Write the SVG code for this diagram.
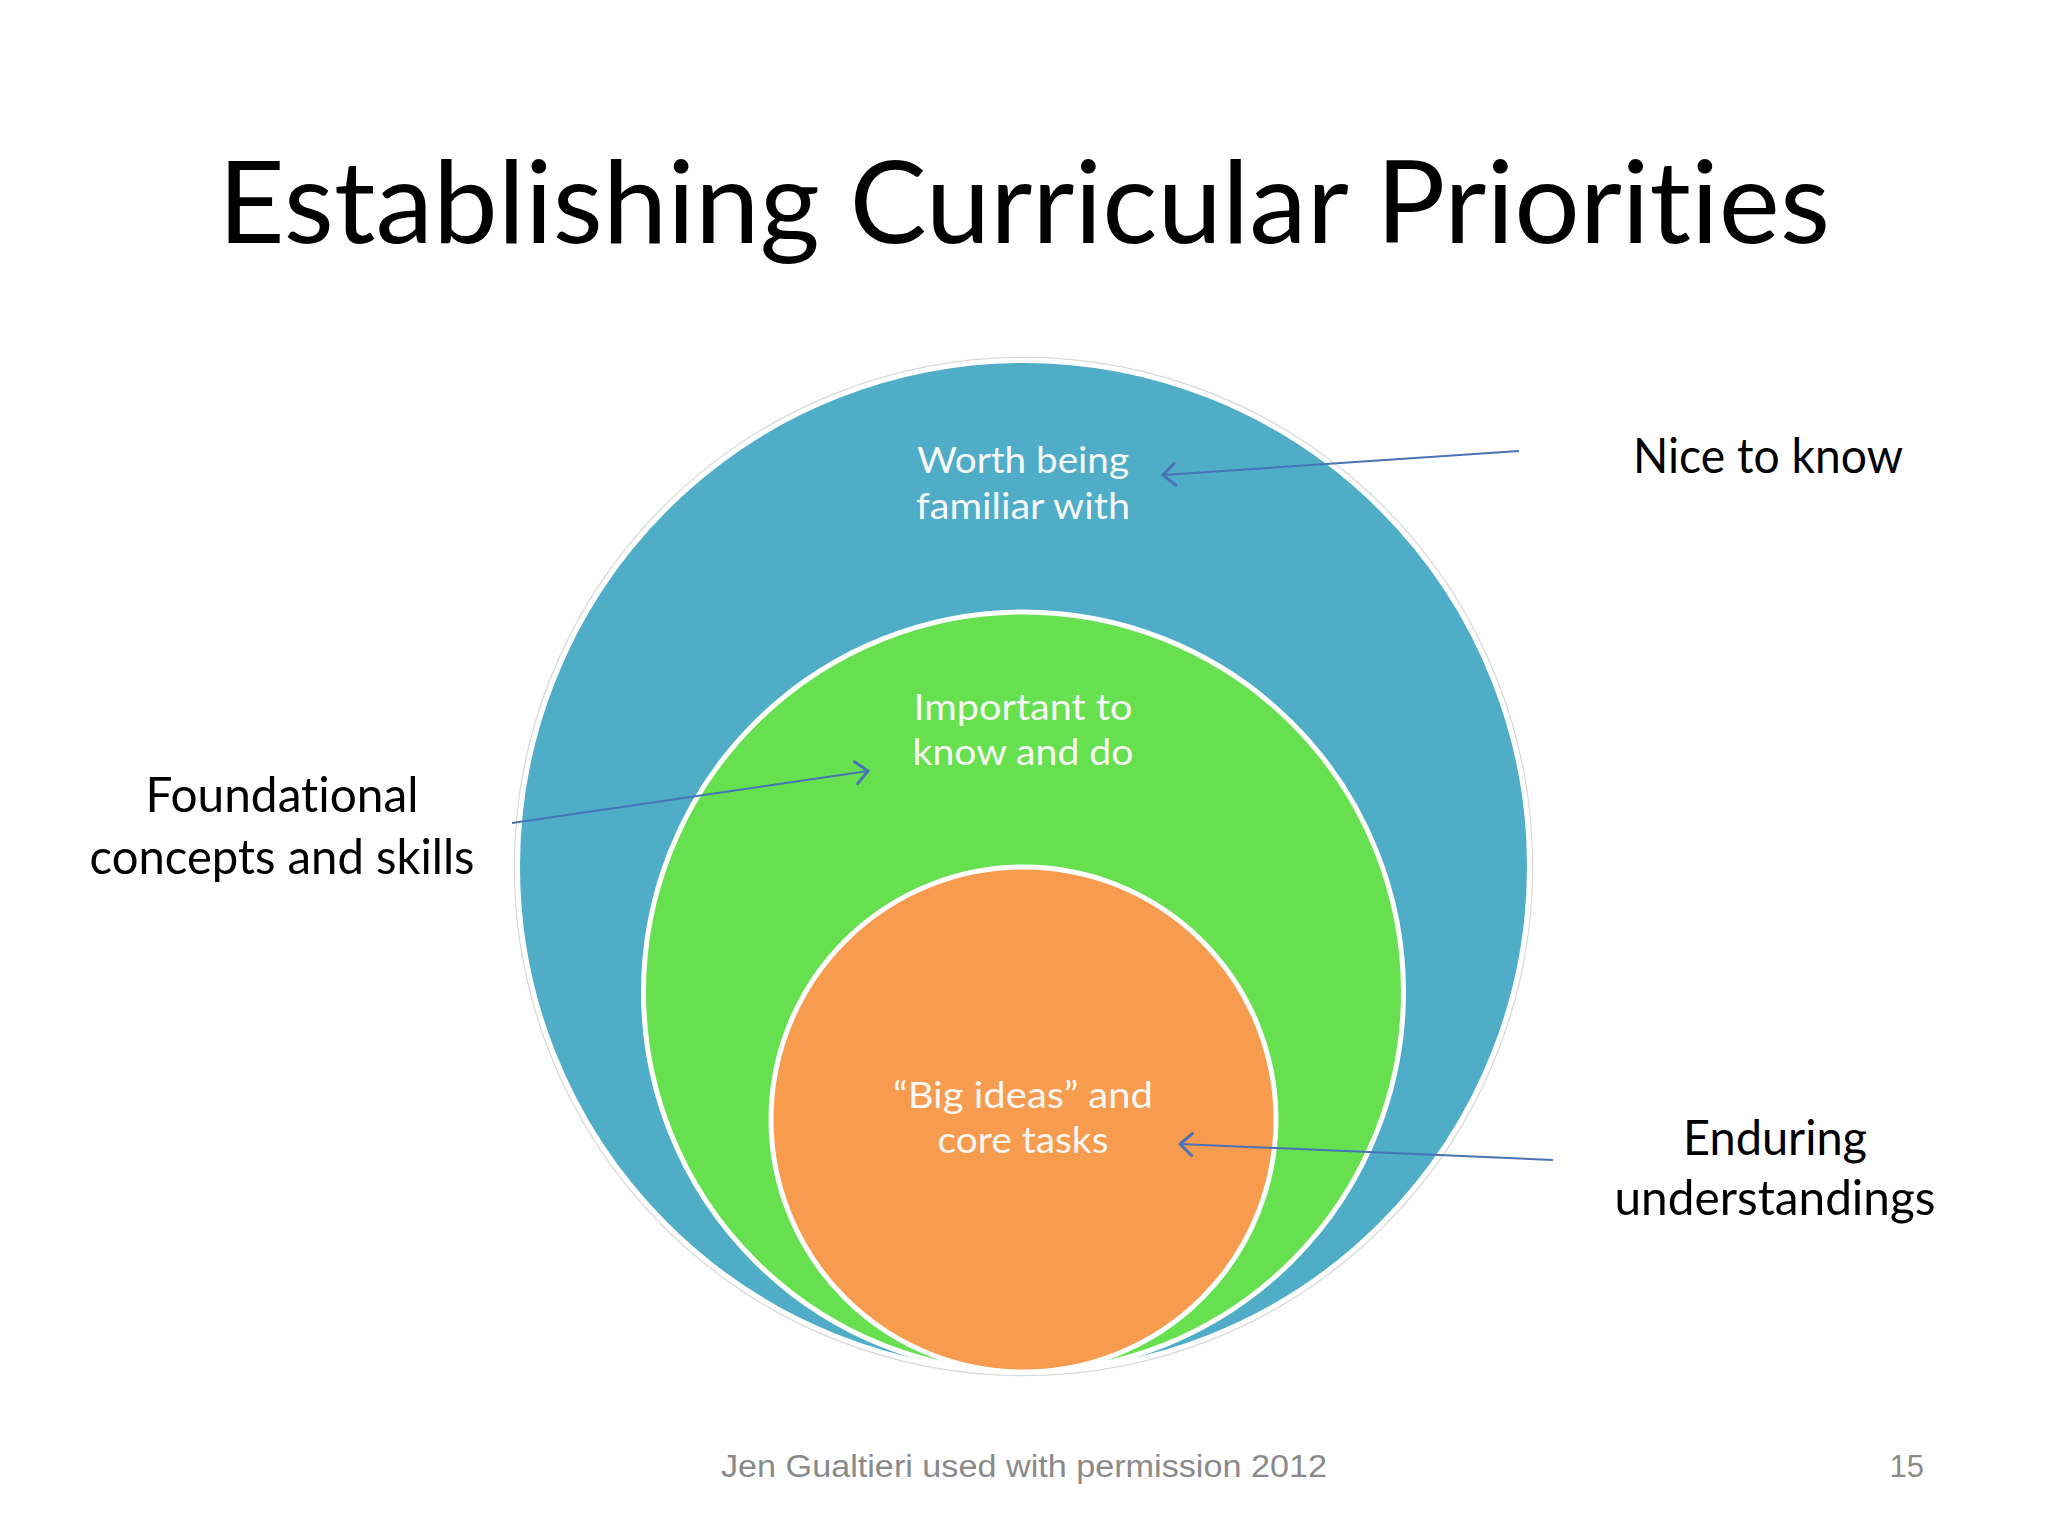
<svg xmlns="http://www.w3.org/2000/svg" width="2048" height="1536" viewBox="0 0 2048 1536">
<style>
text{font-variant-ligatures:none}
.title{font-family:Lato,"Open Sans","Liberation Sans",sans-serif;font-size:114px;fill:#000;text-anchor:middle}
.lbl{font-family:Lato,"Open Sans","Liberation Sans",sans-serif;font-size:49px;fill:#000;text-anchor:middle}
.in{font-family:Lato,"Open Sans","Liberation Sans",sans-serif;font-size:37px;fill:#f7f7f4;text-anchor:middle}
.foot{font-family:"Liberation Sans",Arial,sans-serif;font-size:31px;fill:#8a8a8a}
.ring{stroke:#fff;stroke-width:5}
.conn{stroke:#4a72b8;stroke-width:2;fill:none}
</style>
<defs>
<marker id="arr" viewBox="0 0 16 26" refX="14" refY="13" markerWidth="16" markerHeight="26" markerUnits="userSpaceOnUse" orient="auto" overflow="visible">
<path d="M2,2 L14,13 L2,24" fill="none" stroke="#4a72b8" stroke-width="3" stroke-linecap="round" stroke-linejoin="round"/>
</marker>
</defs>
<rect width="2048" height="1536" fill="#fff"/>
<text class="title" x="1024" y="243" textLength="1612" lengthAdjust="spacingAndGlyphs">Establishing Curricular Priorities</text>

<g id="outer">
<circle cx="1023.5" cy="866.5" r="509" fill="none" stroke="#d8d8d8" stroke-width="1.5"/>
<circle class="ring" cx="1023.5" cy="866.5" r="506" fill="#4fadc8"/>
<text class="in" x="1023" y="473" textLength="212" lengthAdjust="spacingAndGlyphs">Worth being</text>
<text class="in" x="1023" y="519" textLength="214" lengthAdjust="spacingAndGlyphs">familiar with</text>
</g>
<g id="middle">
<circle class="ring" cx="1023.5" cy="992" r="380" fill="#66e04f"/>
<text class="in" x="1023" y="720" textLength="219" lengthAdjust="spacingAndGlyphs">Important to</text>
<text class="in" x="1023" y="765" textLength="221" lengthAdjust="spacingAndGlyphs">know and do</text>
</g>
<g id="inner">
<circle class="ring" cx="1023.5" cy="1119.5" r="252.5" fill="#f79b4e"/>
<text class="in" x="1023" y="1108" textLength="260" lengthAdjust="spacingAndGlyphs">“Big ideas” and</text>
<text class="in" x="1023" y="1153" textLength="171" lengthAdjust="spacingAndGlyphs">core tasks</text>
</g>

<g id="nice">
<text class="lbl" x="1768" y="473" textLength="270" lengthAdjust="spacingAndGlyphs">Nice to know</text>
</g>
<g id="foundational">
<text class="lbl" x="282" y="812" textLength="273" lengthAdjust="spacingAndGlyphs">Foundational</text>
<text class="lbl" x="282" y="874" textLength="385" lengthAdjust="spacingAndGlyphs">concepts and skills</text>
</g>
<g id="enduring">
<text class="lbl" x="1775" y="1155" textLength="184" lengthAdjust="spacingAndGlyphs">Enduring</text>
<text class="lbl" x="1775" y="1215" textLength="321" lengthAdjust="spacingAndGlyphs">understandings</text>
</g>

<g id="connectors">
<line class="conn" x1="1519" y1="451" x2="1163" y2="475" marker-end="url(#arr)"/>
<line class="conn" x1="512" y1="823" x2="868" y2="771" marker-end="url(#arr)"/>
<line class="conn" x1="1553" y1="1160" x2="1180" y2="1144" marker-end="url(#arr)"/>
</g>

<g id="footer">
<text class="foot" x="1024" y="1477" text-anchor="middle" textLength="606" lengthAdjust="spacingAndGlyphs">Jen Gualtieri used with permission 2012</text>
<text class="foot" x="1924" y="1477" text-anchor="end">15</text>
</g>
</svg>
